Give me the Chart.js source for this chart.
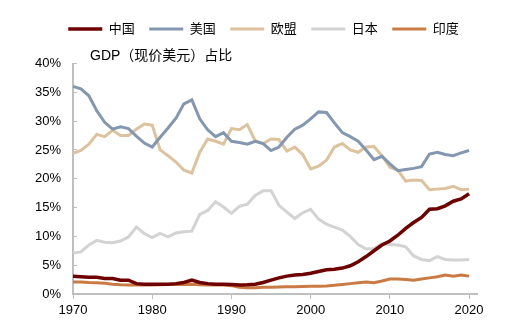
<!DOCTYPE html>
<html>
<head>
<meta charset="utf-8">
<script src="https://cdn.jsdelivr.net/npm/chart.js@4.4.1/dist/chart.umd.min.js"></script>
<style>
  html, body { margin: 0; padding: 0; background: #fff; }
</style>
</head>
<body>
<canvas id="myChart" width="527" height="327"></canvas>
<script>
// 各经济体GDP（现价美元）占全球比重, %
const years = [];
for (let y = 1970; y <= 2020; y++) years.push(y);

const china = [3.1, 3.0, 2.9, 2.9, 2.7, 2.7, 2.4, 2.4, 1.8, 1.7,
  1.7, 1.7, 1.7, 1.8, 2.0, 2.4, 2.0, 1.8, 1.7, 1.7,
  1.65, 1.55, 1.6, 1.7, 2.0, 2.4, 2.8, 3.1, 3.3, 3.4,
  3.6, 3.9, 4.2, 4.3, 4.5, 4.9, 5.6, 6.5, 7.5, 8.5,
  9.2, 10.2, 11.4, 12.4, 13.3, 14.7, 14.8, 15.3, 16.1, 16.5,
  17.4];
const usa = [36.0, 35.6, 34.4, 31.8, 29.8, 28.6, 29.0, 28.7, 27.4, 26.2,
  25.5, 27.2, 28.8, 30.5, 33.0, 33.7, 30.4, 28.5, 27.3, 28.0,
  26.5, 26.3, 26.0, 26.5, 26.1, 24.9, 25.5, 27.2, 28.6, 29.3,
  30.4, 31.6, 31.5, 29.7, 28.0, 27.3, 26.5, 25.0, 23.3, 23.9,
  22.6, 21.4, 21.6, 21.8, 22.1, 24.3, 24.6, 24.2, 24.0, 24.5,
  24.9];
const eu = [24.4, 24.9, 26.0, 27.7, 27.3, 28.4, 27.5, 27.5, 28.6, 29.5,
  29.3, 25.0, 24.0, 22.9, 21.5, 21.0, 24.6, 26.9, 26.5, 26.0,
  28.7, 28.5, 29.4, 26.6, 26.1, 26.9, 26.8, 24.8, 25.5, 24.2,
  21.7, 22.2, 23.2, 25.5, 26.1, 25.0, 24.6, 25.5, 25.6, 24.0,
  22.0, 21.5, 19.6, 19.8, 19.7, 18.1, 18.2, 18.3, 18.7, 18.1,
  18.2];
const japan = [7.1, 7.3, 8.5, 9.3, 9.0, 8.9, 9.2, 9.9, 11.6, 10.5,
  9.8, 10.5, 9.9, 10.6, 10.8, 10.9, 13.8, 14.5, 16.0, 15.1,
  14.0, 15.2, 15.6, 17.1, 17.9, 17.9, 15.4, 14.2, 13.1, 14.1,
  14.7, 13.0, 12.1, 11.6, 11.1, 10.0, 8.6, 7.8, 7.9, 8.7,
  8.6, 8.5, 8.2, 6.6, 6.0, 5.8, 6.5, 6.0, 5.9, 5.9,
  6.0];
const india = [2.1, 2.1, 2.0, 1.95, 1.85, 1.7, 1.6, 1.55, 1.55, 1.55,
  1.55, 1.6, 1.65, 1.7, 1.65, 1.7, 1.6, 1.55, 1.55, 1.55,
  1.45, 1.15, 1.1, 1.1, 1.15, 1.15, 1.2, 1.25, 1.25, 1.3,
  1.35, 1.35, 1.4, 1.5, 1.65, 1.8, 1.95, 2.1, 1.95, 2.25,
  2.6, 2.6, 2.5, 2.4, 2.6, 2.8, 3.0, 3.3, 3.1, 3.3,
  3.1];

const yTicks = [0, 5, 10, 15, 20, 25, 30, 35, 40];
const xTicks = [1970, 1980, 1990, 2000, 2010, 2020];

const ctx = document.getElementById('myChart').getContext('2d');
Chart.defaults.font.family = '"Liberation Sans", Arial, "Noto Sans CJK SC", sans-serif';
Chart.defaults.font.size = 13;
Chart.defaults.color = '#000';

const toPoints = vals => years.map((y, i) => ({ x: y, y: vals[i] }));

const series = [
  { label: '中国', data: china, color: '#6e0000', width: 3.5 },
  { label: '美国', data: usa, color: '#8497b0', width: 3 },
  { label: '欧盟', data: eu, color: '#dcc39d', width: 3 },
  { label: '日本', data: japan, color: '#d3d3d3', width: 3 },
  { label: '印度', data: india, color: '#c97b43', width: 3 }
];

// 图内标题
const innerTitle = {
  id: 'innerTitle',
  afterDraw(chart) {
    const c = chart.ctx;
    c.save();
    c.font = '14px "Liberation Sans", Arial, "Noto Sans CJK SC", sans-serif';
    c.fillStyle = '#000';
    c.textBaseline = 'middle';
    c.fillText('GDP（现价美元）占比', chart.chartArea.left + 17, chart.chartArea.top - 7);
    c.restore();
  }
};

new Chart(ctx, {
  type: 'line',
  data: {
    datasets: series.map(s => ({
      label: s.label,
      data: toPoints(s.data),
      borderColor: s.color,
      backgroundColor: s.color,
      borderWidth: s.width,
      pointRadius: 0,
      tension: 0
    }))
  },
  options: {
    responsive: false,
    animation: false,
    layout: { padding: { top: 8, left: 0, right: 0, bottom: 0 } },
    plugins: {
      legend: {
        position: 'top',
        labels: {
          usePointStyle: true,
          pointStyle: 'line',
          pointStyleWidth: 34,
          boxHeight: 13,
          padding: 14.5,
          font: { size: 13 }
        }
      },
      // 留出图例下方、标题所在的空间
      title: {
        display: true,
        text: ' ',
        weight: 500,
        padding: 0,
        font: { size: 18, lineHeight: 1 }
      },
      tooltip: { enabled: false }
    },
    scales: {
      x: {
        type: 'linear',
        min: 1970,
        max: 2021,
        afterBuildTicks: s => { s.ticks = xTicks.map(v => ({ value: v })); },
        afterFit: s => { s.height = 33; },
        ticks: { padding: 4, font: { size: 13 }, callback: v => String(v) },
        grid: { drawOnChartArea: false, tickLength: 5, color: '#bfbfbf', lineWidth: 1 },
        border: { color: '#bfbfbf', width: 2 }
      },
      y: {
        min: 0,
        max: 40,
        afterBuildTicks: s => { s.ticks = yTicks.map(v => ({ value: v })); },
        afterFit: s => { s.width = 73; },
        ticks: { padding: 16, font: { size: 13 }, callback: v => v + '%' },
        grid: { drawOnChartArea: false, tickLength: -4, color: '#bfbfbf', lineWidth: 1 },
        border: { color: '#bfbfbf', width: 2 }
      },
      yRight: {
        position: 'right',
        display: true,
        afterFit: s => { s.width = 50; },
        ticks: { display: false },
        grid: { display: false },
        border: { display: false }
      }
    }
  },
  plugins: [innerTitle]
});
</script>
</body>
</html>
